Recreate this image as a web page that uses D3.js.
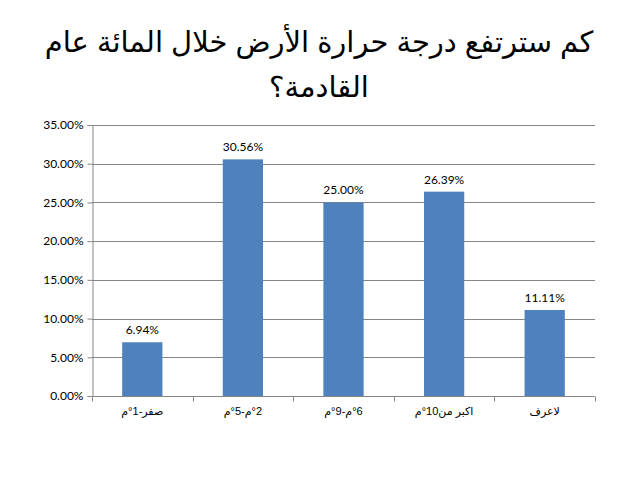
<!DOCTYPE html>
<html><head><meta charset="utf-8">
<script src="https://cdn.jsdelivr.net/npm/d3@7"></script>
<style>
body{margin:0;background:#fff;}
svg{display:block;}
</style></head>
<body>
<svg id="c" width="638" height="479"></svg>
<script>
const titleLines = ["كم سترتفع درجة حرارة الأرض خلال  المائة عام", "القادمة؟"];
const categories = ["صفر-1°م", "°2م-5°م", "°6م-9°م", "اكبر من10°م", "لاعرف"];
const values = [6.94, 30.56, 25.00, 26.39, 11.11];
const yTicks = [0, 5, 10, 15, 20, 25, 30, 35];

const svg = d3.select("#c");
const m = {left: 92, right: 595, top: 125, bottom: 396};

svg.selectAll("text.title").data(titleLines).join("text")
  .attr("class", "title")
  .attr("x", 319).attr("y", (d, i) => 52 + i * 45)
  .attr("text-anchor", "middle")
  .attr("direction", "rtl")
  .style("font-family", "Liberation Sans, Arial, DejaVu Sans, sans-serif")
  .style("font-size", "29px")
  .attr("fill", "#000")
  .text(d => d);

const x = d3.scaleBand().domain(categories).range([m.left, m.right]).paddingInner(0.6).paddingOuter(0.3);
const xb = d3.scaleBand().domain(categories).range([m.left, m.right]);
const y = d3.scaleLinear().domain([0, 35]).range([m.bottom, m.top]);

// gridlines
svg.append("g").selectAll("line").data(yTicks.filter(d => d > 0)).join("line")
  .attr("x1", m.left).attr("x2", m.right)
  .attr("y1", d => Math.round(y(d)) + 0.5).attr("y2", d => Math.round(y(d)) + 0.5)
  .attr("stroke", "#868686").attr("stroke-width", 1);

// bars
svg.append("g").selectAll("rect").data(values).join("rect")
  .attr("x", (d, i) => x(categories[i]))
  .attr("width", x.bandwidth())
  .attr("y", d => y(d))
  .attr("height", d => m.bottom - y(d))
  .attr("fill", "#4F81BD");

// value labels
svg.append("g").selectAll("text").data(values).join("text")
  .attr("x", (d, i) => x(categories[i]) + x.bandwidth() / 2)
  .attr("y", d => y(d) - 8)
  .attr("text-anchor", "middle")
  .style("font-family", "Lato, Open Sans, sans-serif")
  .style("font-size", "12px")
  .attr("fill", "#000")
  .text(d => d.toFixed(2) + "%");

// y axis
const yAxis = d3.axisLeft(y).tickValues(yTicks).tickSize(5).tickFormat(d => d.toFixed(2) + "%");
const gy = svg.append("g").attr("transform", `translate(${m.left + 0.5},0)`).call(yAxis);
gy.select(".domain").attr("stroke", "#868686");
gy.selectAll(".tick line").attr("stroke", "#868686");
gy.selectAll(".tick text").attr("x", -9)
  .style("font-family", "Lato, Open Sans, sans-serif").style("font-size", "12px").attr("fill", "#000");

// x axis
const gx = svg.append("g").attr("transform", `translate(0,${m.bottom + 0.5})`);
gx.append("line").attr("x1", m.left).attr("x2", m.right).attr("stroke", "#868686");
const bounds = categories.map(c => xb(c)).concat([m.right]);
gx.selectAll("line.t").data(bounds).join("line").attr("class", "t")
  .attr("x1", d => Math.round(d) + 0.5).attr("x2", d => Math.round(d) + 0.5)
  .attr("y1", 0).attr("y2", 5).attr("stroke", "#868686");
gx.selectAll("text").data(categories).join("text")
  .attr("x", d => xb(d) + xb.bandwidth() / 2)
  .attr("y", 18)
  .attr("text-anchor", "middle")
  .attr("direction", "rtl")
  .style("font-family", "Liberation Sans, Arial, DejaVu Sans, sans-serif")
  .style("font-size", "11px")
  .attr("fill", "#000")
  .text(d => d);
</script>
</body></html>
